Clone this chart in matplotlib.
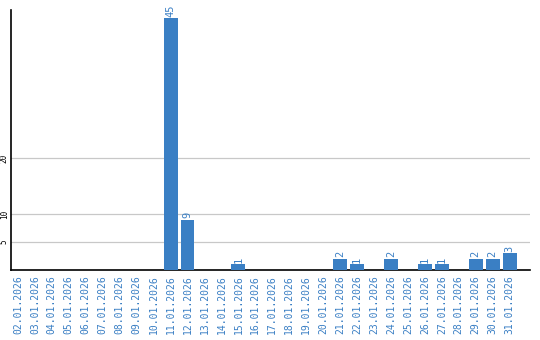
import numpy as np
from matplotlib import pyplot as plt

dates = ['%02d.01.2026' % d for d in range(2, 32)]
values = [0, 0, 0, 0, 0, 0, 0, 0, 0, 45, 9, 0, 0, 1, 0, 0, 0, 0, 0, 2, 1, 0, 2, 0, 1, 1, 0, 2, 2, 3]

blue = '#3a7fc4'
mono = 'DejaVu Sans Mono'

fig = plt.figure(figsize=(5.4, 3.4), dpi=100)
ax = fig.add_axes([11/540, 70/340, 519/540, 260/340])

x = np.arange(len(dates))
ax.bar(x, values, width=0.82, color=blue, zorder=3)
for xi, v in zip(x, values):
    if v > 0:
        ax.text(xi, v + 0.3, str(v), rotation=90, ha='center', va='bottom',
                color=blue, fontsize=7.5, family=mono)

ax.set_xlim(-0.41, 30.2)
ax.set_ylim(0, 46.5)
ax.set_yticks([5, 10, 20])
ax.set_yticklabels(['5', '10', '20'], rotation=90, va='center', fontsize=5.5, family=mono)
ax.set_xticks(x)
ax.set_xticklabels(dates, rotation=90, fontsize=7, family=mono, color=blue)
ax.tick_params(length=0, pad=4)
ax.tick_params(axis='y', pad=1.5)
ax.grid(axis='y', color='#c8c8c8', lw=0.9, zorder=0)
for s in ['top', 'right']:
    ax.spines[s].set_visible(False)
ax.spines['left'].set_linewidth(1.2)
ax.spines['bottom'].set_linewidth(1.2)

plt.savefig('out.png', dpi=100)
